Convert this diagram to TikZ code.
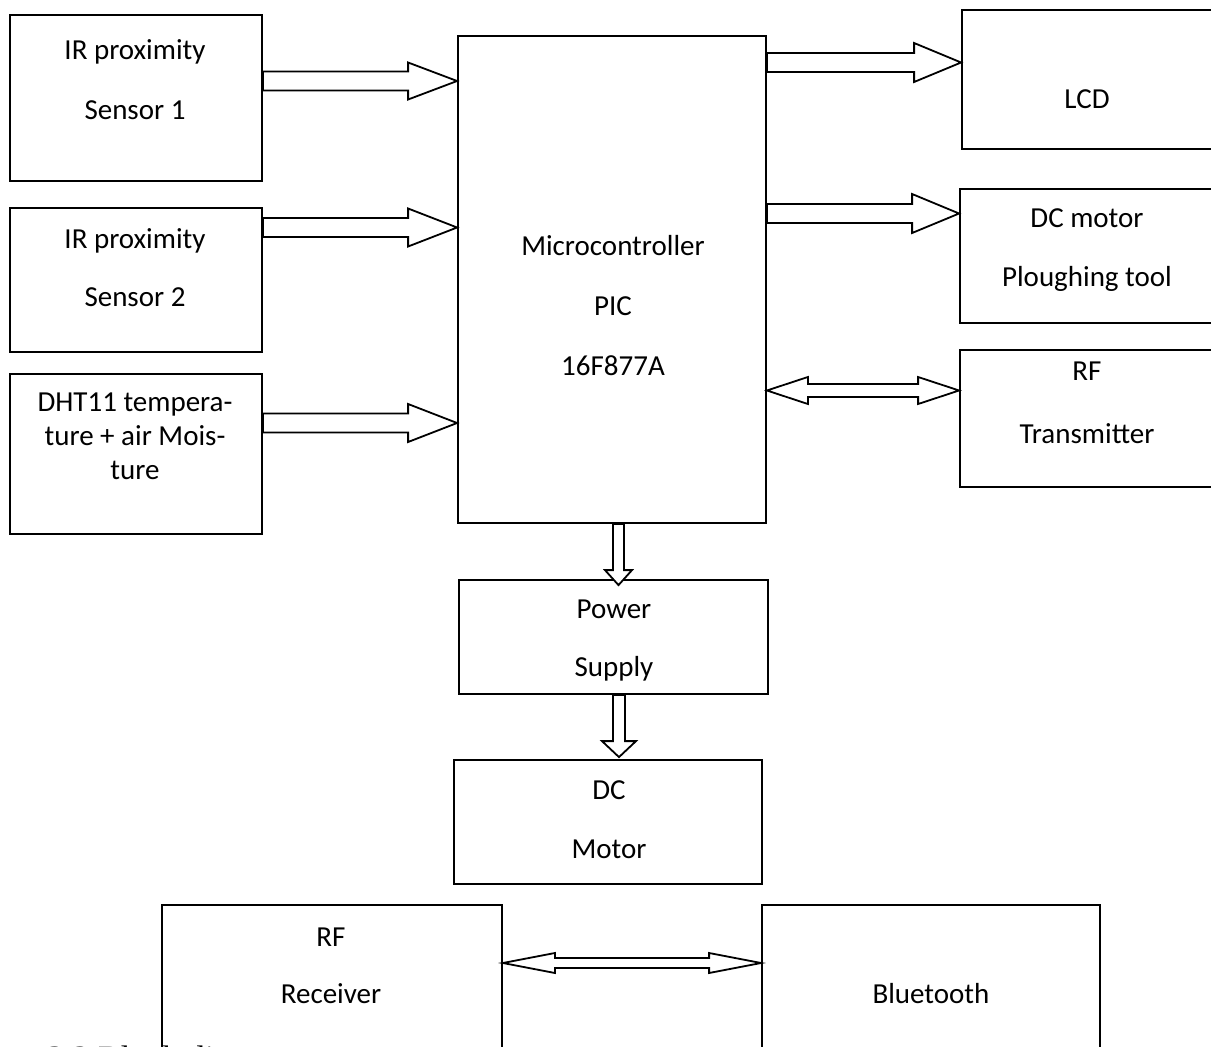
\documentclass[tikz,border=0pt]{standalone}
\usepackage{fontspec}
\setmainfont{Carlito}
\newfontfamily\capfont{Liberation Serif}
\usetikzlibrary{calc}
\tikzset{
  box/.style={draw, line width=1.8pt, inner sep=0pt, rectangle},
  blk/.style={draw, line width=1.8pt, fill=white, line join=miter},
  txt/.style={anchor=base, inner sep=0pt, font=\fontsize{29}{34}\selectfont},
}
% right-pointing block arrow: start, end, shaft half width, head half width, head length
\newcommand{\rblock}[5]{%
  \draw[blk] let \p1=(#1),\p2=(#2) in
    (\x1,{\y1+#3pt}) -- ({\x2-#5pt},{\y1+#3pt}) -- ({\x2-#5pt},{\y1+#4pt}) -- (\x2,\y1)
    -- ({\x2-#5pt},{\y1-#4pt}) -- ({\x2-#5pt},{\y1-#3pt}) -- (\x1,{\y1-#3pt}) -- cycle;}
% double-headed horizontal block arrow
\newcommand{\dblock}[5]{%
  \draw[blk] let \p1=(#1),\p2=(#2) in
    (\x1,\y1) -- ({\x1+#5pt},{\y1+#4pt}) -- ({\x1+#5pt},{\y1+#3pt}) -- ({\x2-#5pt},{\y1+#3pt})
    -- ({\x2-#5pt},{\y1+#4pt}) -- (\x2,\y1) -- ({\x2-#5pt},{\y1-#4pt}) -- ({\x2-#5pt},{\y1-#3pt})
    -- ({\x1+#5pt},{\y1-#3pt}) -- ({\x1+#5pt},{\y1-#4pt}) -- cycle;}
% downward block arrow
\newcommand{\vblock}[5]{%
  \draw[blk] let \p1=(#1),\p2=(#2) in
    ({\x1-#3pt},\y1) -- ({\x1-#3pt},{\y2+#5pt}) -- ({\x1-#4pt},{\y2+#5pt}) -- (\x1,\y2)
    -- ({\x1+#4pt},{\y2+#5pt}) -- ({\x1+#3pt},{\y2+#5pt}) -- ({\x1+#3pt},\y1) -- cycle;}
\begin{document}
\begin{tikzpicture}[x=1pt,y=-1pt]
\useasboundingbox[fill=white] (0,0) rectangle (1211,1047);

% boxes
\node[box, minimum width=252, minimum height=166] (ir1) at (136,98) {};
\node[box, minimum width=252, minimum height=144] (ir2) at (136,280) {};
\node[box, minimum width=252, minimum height=160] (dht) at (136,454) {};
\node[box, minimum width=308, minimum height=487] (mcu) at (612,279.5) {};
\node[box, minimum width=258, minimum height=139] (lcd) at (1091,79.5) {};
\node[box, minimum width=260, minimum height=134] (dcm) at (1090,256) {};
\node[box, minimum width=260, minimum height=137] (rft) at (1090,418.5) {};
\node[box, minimum width=309, minimum height=114] (ps) at (613.5,637) {};
\node[box, minimum width=308, minimum height=124] (mot) at (608,822) {};
\node[box, minimum width=340, minimum height=160] (rfr) at (332,985) {};
\node[box, minimum width=338, minimum height=160] (bt) at (931,985) {};

% texts
\node[txt] (t1a) at (135,59) {IR proximity};
\node[txt] (t1b) at (135,119) {Sensor 1};
\node[txt] (t2a) at (135,248) {IR proximity};
\node[txt] (t2b) at (135,306) {Sensor 2};
\node[txt] (t3a) at (135,411) {DHT11 tempera-};
\node[txt] (t3b) at (135,445) {ture + air Mois-};
\node[txt] (t3c) at (135,479) {ture};
\node[txt] (tma) at (613,255) {Microcontroller};
\node[txt] (tmb) at (613,315) {PIC};
\node[txt] (tmc) at (613,375) {16F877A};
\node[txt] (tl) at (1087,108) {LCD};
\node[txt] (tda) at (1087,227) {DC motor};
\node[txt] (tdb) at (1087,286) {Ploughing tool};
\node[txt] (tra) at (1087,380) {RF};
\node[txt] (trb) at (1087,443) {Transmitter};
\node[txt] (tpa) at (614,618) {Power};
\node[txt] (tpb) at (614,676) {Supply};
\node[txt] (toa) at (609,799) {DC};
\node[txt] (tob) at (609,858) {Motor};
\node[txt] (tqa) at (331,946) {RF};
\node[txt] (tqb) at (331,1003) {Receiver};
\node[txt] (tbt) at (931,1003) {Bluetooth};

% arrows
\rblock{ir1.east |- 0,81}{mcu.west |- 0,81}{9.5}{18.5}{49}
\rblock{ir2.east |- 0,227.5}{mcu.west |- 0,227.5}{9.5}{19}{49}
\rblock{dht.east |- 0,423}{mcu.west |- 0,423}{9.5}{19}{49}
\rblock{mcu.east |- 0,62.5}{lcd.west |- 0,62.5}{9.5}{19.5}{47}
\rblock{mcu.east |- 0,213.5}{dcm.west |- 0,213.5}{9.5}{19.5}{47}
\dblock{mcu.east |- 0,390.5}{rft.west |- 0,390.5}{6.5}{13.5}{41}
\dblock{rfr.east |- 0,963}{bt.west |- 0,963}{5}{10}{52}
\vblock{mcu.south -| 618.5,0}{$(ps.north -| 618.5,0)+(0,6)$}{5.5}{13.5}{15}
\vblock{ps.south -| 619,0}{$(mot.north -| 619,0)+(0,-2)$}{6}{17}{16}

% caption (cut by the page edge, as in the reference)
\node[anchor=base west, inner sep=0pt, font=\capfont\fontsize{34}{40}\selectfont] (cap) at (47,1069.5) {\llap{Figure }3.2 Block diagram};
\end{tikzpicture}
\end{document}
